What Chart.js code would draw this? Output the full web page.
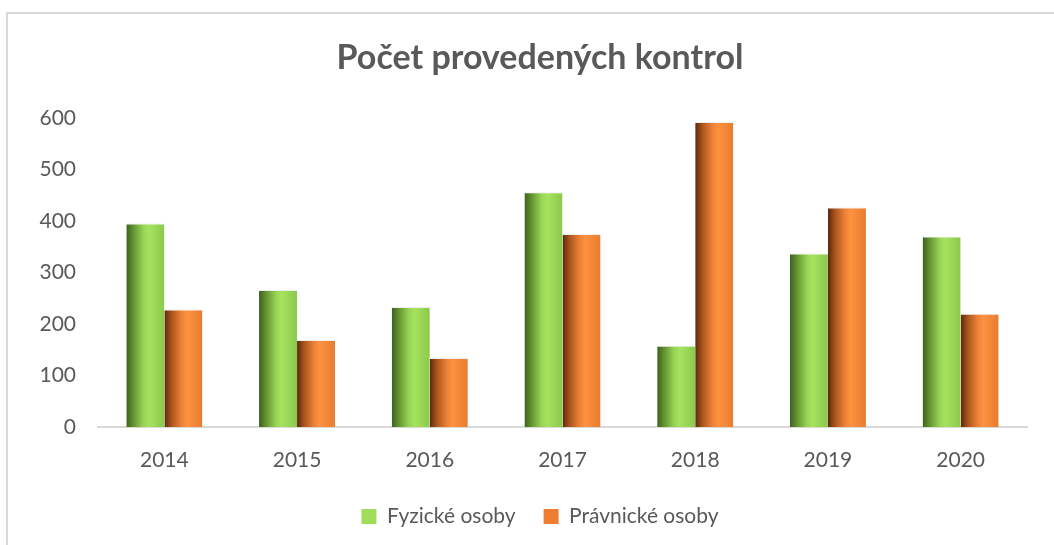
<!DOCTYPE html>
<html>
<head>
<meta charset="utf-8">
<script src="https://cdn.jsdelivr.net/npm/chart.js@4.4.1/dist/chart.umd.min.js"></script>
<style>
  html, body { margin: 0; padding: 0; background: #ffffff; }
  #wrap { position: absolute; left: 0; top: 0; width: 1054px; height: 545px; }
</style>
</head>
<body>
<div id="wrap"><canvas id="c" width="1054" height="545"></canvas></div>
<script>
const categories = ['2014', '2015', '2016', '2017', '2018', '2019', '2020'];
const fyzickeOsoby = [395, 266, 233, 456, 158, 337, 370];
const pravnickeOsoby = [228, 169, 134, 375, 592, 426, 220];
const yTicks = [0, 100, 200, 300, 400, 500, 600];
const seriesNames = ['Fyzické osoby', 'Právnické osoby'];
const titleText = 'Počet provedených kontrol';

const FONT = 'Lato, "Open Sans", sans-serif';
const TEXT = '#595959';

const gradStops = [
  [[0, '#3d6120'], [0.18, '#62922f'], [0.45, '#98d556'], [0.6, '#a5e35e'], [1, '#8bc84c']],
  [[0, '#5a280b'], [0.18, '#a8531c'], [0.45, '#ec8237'], [0.6, '#fe9240'], [1, '#e67c30']]
];
const solid = ['#9fdd5a', '#ed7d31'];

const framePlugin = {
  id: 'frame',
  beforeDraw(chart) {
    const ctx = chart.ctx;
    ctx.save();
    ctx.fillStyle = '#ffffff';
    ctx.fillRect(0, 0, chart.width, chart.height);
    ctx.strokeStyle = '#d9d9d9';
    ctx.lineWidth = 2;
    ctx.beginPath();
    ctx.moveTo(7, chart.height);
    ctx.lineTo(7, 13);
    ctx.lineTo(chart.width, 13);
    ctx.stroke();
    ctx.restore();
  }
};

const gradientPlugin = {
  id: 'barGradient',
  beforeDatasetsDraw(chart) {
    const ctx = chart.ctx;
    chart.data.datasets.forEach((ds, di) => {
      const meta = chart.getDatasetMeta(di);
      meta.data.forEach(el => {
        const x0 = el.x - el.width / 2;
        const x1 = el.x + el.width / 2;
        const g = ctx.createLinearGradient(x0, 0, x1, 0);
        gradStops[di].forEach(s => g.addColorStop(s[0], s[1]));
        el.options.backgroundColor = g;
      });
    });
  }
};

new Chart(document.getElementById('c'), {
  type: 'bar',
  data: {
    labels: categories,
    datasets: [
      { label: seriesNames[0], data: fyzickeOsoby, backgroundColor: (c) => solid[0],
        borderWidth: { top: 1, left: 0, right: 0, bottom: 0 }, borderColor: 'rgba(235,235,235,0.9)', borderSkipped: 'bottom' },
      { label: seriesNames[1], data: pravnickeOsoby, backgroundColor: (c) => solid[1],
        borderWidth: { top: 1, left: 0, right: 0, bottom: 0 }, borderColor: 'rgba(235,235,235,0.9)', borderSkipped: 'bottom' }
    ]
  },
  options: {
    responsive: false,
    animation: false,
    devicePixelRatio: 1,
    datasets: { bar: { categoryPercentage: 0.573, barPercentage: 1 } },
    layout: { padding: { left: 26, right: 0, top: 0, bottom: 8 } },
    plugins: {
      title: {
        display: true,
        text: titleText,
        color: TEXT,
        font: { family: FONT, size: 34, weight: 'bold', lineHeight: 1.2 },
        padding: { top: 37.6, bottom: 39.6 }
      },
      legend: {
        position: 'bottom',
        labels: {
          color: TEXT,
          font: { family: FONT, size: 21 },
          boxWidth: 15,
          boxHeight: 15,
          padding: 28,
          generateLabels(chart) {
            return chart.data.datasets.map((ds, i) => ({
              text: ds.label,
              fillStyle: solid[i],
              strokeStyle: solid[i],
              lineWidth: 0,
              fontColor: TEXT,
              datasetIndex: i,
              hidden: false
            }));
          }
        }
      },
      tooltip: { enabled: false }
    },
    scales: {
      x: {
        grid: { display: false, drawTicks: false },
        border: { display: true, color: '#d9d9d9', width: 2 },
        ticks: { color: TEXT, font: { family: FONT, size: 21 }, padding: 21 },
        afterFit(s) { s.height = 51; }
      },
      y: {
        min: 0,
        max: 600,
        afterBuildTicks(s) { s.ticks = yTicks.map(v => ({ value: v })); },
        grid: { display: false, drawTicks: false },
        border: { display: false },
        ticks: { color: TEXT, font: { family: FONT, size: 21 }, padding: 22 },
        afterFit(s) { s.width = 72; }
      },
      yRight: {
        type: 'linear',
        position: 'right',
        display: true,
        min: 0,
        max: 600,
        grid: { display: false, drawTicks: false },
        border: { display: false },
        ticks: { display: false },
        afterFit(s) { s.width = 27; }
      }
    }
  },
  plugins: [framePlugin, gradientPlugin]
});
</script>
</body>
</html>
